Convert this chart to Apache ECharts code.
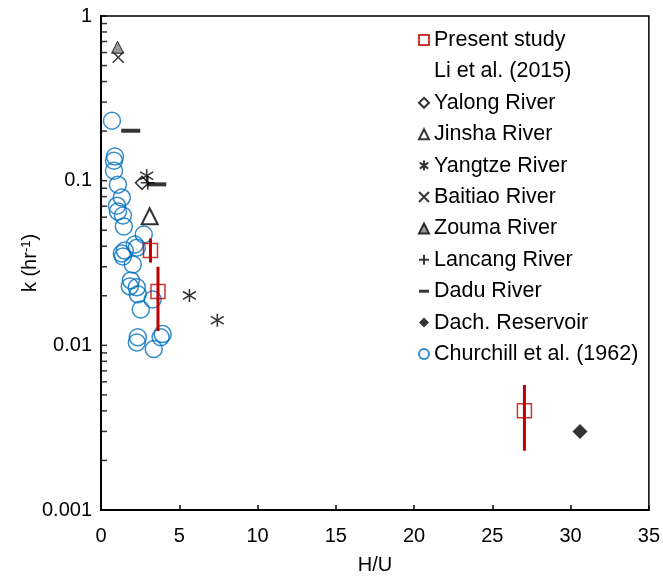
<!DOCTYPE html>
<html><head><meta charset="utf-8">
<script src="https://cdn.jsdelivr.net/npm/echarts@6/dist/echarts.min.js"></script>
<style>html,body{margin:0;padding:0;background:#fff}#c{width:663px;height:580px}</style>
</head><body><div id="c"></div>
<script>
// ---- data ----
const xTicks = [0, 5, 10, 15, 20, 25, 30, 35];
const yTicks = [0.001, 0.01, 0.1, 1];

const presentX = [3.16, 3.64, 27.05];
const presentK = [0.0376, 0.0212, 0.0040];
const presentLow = [0.0318, 0.0122, 0.00229];
const presentHigh = [0.0445, 0.030, 0.00574];

const yalongX = [2.62];            const yalongK = [0.097];
const jinshaX = [3.11];            const jinshaK = [0.0608];
const yangtzeX = [2.92, 5.65, 7.43]; const yangtzeK = [0.107, 0.0201, 0.0142];
const baitiaoX = [1.10];           const baitiaoK = [0.562];
const zoumaX = [1.06];             const zoumaK = [0.646];
const lancangX = [2.99];           const lancangK = [0.097];
const daduX = [1.90, 3.56];        const daduK = [0.201, 0.095];
const dachX = [30.6];              const dachK = [0.0030];

const churchillX = [0.70, 0.89, 0.83, 0.83, 1.08, 1.33, 1.02, 1.08, 1.40, 1.46,
  2.73, 2.16, 2.29, 1.52, 1.33, 1.40, 2.03, 1.91, 1.84, 2.29,
  2.35, 3.30, 2.54, 2.35, 2.29, 3.94, 3.81, 3.37];
const churchillK = [0.231, 0.140, 0.132, 0.115, 0.0946, 0.0789, 0.0705, 0.0649, 0.0614, 0.0527,
  0.0471, 0.0410, 0.0392, 0.0376, 0.0361, 0.0346, 0.0310, 0.0248, 0.0228, 0.0225,
  0.0204, 0.0190, 0.0165, 0.0112, 0.0104, 0.0117, 0.0112, 0.0095];

// ---- helpers ----
const pts = (xs, ks) => xs.map((x, i) => [x, ks[i]]);
const FONT = 'Liberation Sans';
const BLACK = '#000';
const RED = '#C00000';
const BLUE = '#0070C0';

const SYM_X = 'path://M0,0L10,10M10,0L0,10';
const SYM_PLUS = 'path://M5,0L5,10M0,5L10,5';
const SYM_AST = 'path://M5,0L5,10M0.8,2L9.2,8M9.2,2L0.8,8';

// minor/major tick positions on the log y axis (1..9 x decade)
const yMinorTicks = [];
[0.001, 0.01, 0.1].forEach(d => { for (let m = 1; m <= 9; m++) yMinorTicks.push([0, +(m * d).toPrecision(3)]); });
yMinorTicks.push([0, 1]);

const open = (c, w) => ({ color: 'rgba(0,0,0,0)', borderColor: c, borderWidth: w });

const chart = echarts.init(document.getElementById('c'));
chart.setOption({
  animation: false,
  backgroundColor: '#fff',
  textStyle: { fontFamily: FONT },
  grid: { left: 101, right: 11, top: 16, bottom: 69, show: true, borderColor: BLACK, borderWidth: 1.5, backgroundColor: 'transparent' },
  xAxis: {
    type: 'value', min: 0, max: 35, interval: 5,
    name: 'H/U', nameLocation: 'middle', nameGap: 45, nameMoveOverlap: false,
    nameTextStyle: { fontSize: 20, color: BLACK, fontFamily: FONT },
    axisLine: { show: true, lineStyle: { color: BLACK, width: 2 } },
    axisTick: { show: true, inside: true, length: 5, lineStyle: { color: BLACK, width: 1.5 } },
    axisLabel: { fontSize: 20, color: BLACK, margin: 16, fontFamily: FONT, formatter: v => String(v) },
    splitLine: { show: false }
  },
  yAxis: {
    type: 'log', logBase: 10, min: 0.001, max: 1,
    name: '{a|k (hr}{s|-1}{a|)}', nameLocation: 'middle', nameGap: 61, nameRotate: 90, nameMoveOverlap: false,
    nameTextStyle: { color: BLACK, fontFamily: FONT, rich: {
      a: { fontSize: 20, color: BLACK, fontFamily: FONT },
      s: { fontSize: 13, color: BLACK, fontFamily: FONT, verticalAlign: 'top', padding: [0, 0, 6, 0] }
    } },
    axisLine: { show: true, lineStyle: { color: BLACK, width: 2 } },
    axisTick: { show: false },
    axisLabel: { fontSize: 20, color: BLACK, margin: 9, fontFamily: FONT,
      formatter: v => { const t = yTicks.find(t => Math.abs(Math.log10(t) - Math.log10(v)) < 1e-6); return t === undefined ? '' : String(t); } },
    splitLine: { show: false }
  },
  legend: {
    orient: 'vertical', left: 413, top: 24,
    itemWidth: 10, itemHeight: 10, itemGap: 9.4,
    textStyle: { fontSize: 21.5, color: BLACK, fontFamily: FONT, lineHeight: 22 },
    data: [
      'Present study',
      { name: 'Li et al. (2015)', icon: 'rect', itemStyle: { opacity: 0 } },
      'Yalong River', 'Jinsha River', 'Yangtze River', 'Baitiao River', 'Zouma River',
      'Lancang River',
      { name: 'Dadu River', icon: 'path://M0,0h10v3h-10z' },
      'Dach. Reservoir', 'Churchill et al. (1962)'
    ]
  },
  series: [
    { type: 'scatter', name: 'ticks', data: yMinorTicks, symbol: 'rect', symbolSize: [6, 1.5], symbolOffset: [3, 0],
      itemStyle: { color: BLACK }, silent: true, z: 10, clip: false },
    { type: 'scatter', name: 'Churchill et al. (1962)', data: pts(churchillX, churchillK), symbol: 'circle', symbolSize: 17,
      itemStyle: open(BLUE, 1.5), z: 2 },
    { type: 'custom', name: 'err', data: presentX.map((x, i) => [x, presentLow[i], presentHigh[i]]),
      encode: { x: 0, y: [1, 2] }, z: 3, silent: true,
      renderItem: (params, api) => {
        const p1 = api.coord([api.value(0), api.value(1)]);
        const p2 = api.coord([api.value(0), api.value(2)]);
        return { type: 'line', shape: { x1: p1[0], y1: p1[1], x2: p2[0], y2: p2[1] }, style: { stroke: RED, lineWidth: 3 } };
      } },
    { type: 'scatter', name: 'Present study', data: pts(presentX, presentK), symbol: 'rect', symbolSize: 14,
      itemStyle: open(RED, 1.5), z: 4 },
    { type: 'scatter', name: 'Li et al. (2015)', data: [], symbol: 'rect', itemStyle: { opacity: 0 } },
    { type: 'scatter', name: 'Yalong River', data: pts(yalongX, yalongK), symbol: 'diamond', symbolSize: 13,
      itemStyle: open(BLACK, 1.5), z: 4 },
    { type: 'scatter', name: 'Jinsha River', data: pts(jinshaX, jinshaK), symbol: 'triangle', symbolSize: 16,
      itemStyle: open(BLACK, 2), z: 4 },
    { type: 'scatter', name: 'Yangtze River', data: pts(yangtzeX, yangtzeK), symbol: SYM_AST, symbolSize: 13,
      itemStyle: open(BLACK, 1.5), z: 4 },
    { type: 'scatter', name: 'Baitiao River', data: pts(baitiaoX, baitiaoK), symbol: SYM_X, symbolSize: 11,
      itemStyle: open(BLACK, 1.5), z: 4 },
    { type: 'scatter', name: 'Zouma River', data: pts(zoumaX, zoumaK), symbol: 'triangle', symbolSize: 12,
      itemStyle: { color: '#808080', borderColor: BLACK, borderWidth: 1 }, z: 5 },
    { type: 'scatter', name: 'Lancang River', data: pts(lancangX, lancangK), symbol: SYM_PLUS, symbolSize: 14,
      itemStyle: open(BLACK, 1.5), z: 4 },
    { type: 'scatter', name: 'Dadu River', data: pts(daduX, daduK), symbol: 'rect', symbolSize: [19, 4],
      itemStyle: { color: BLACK }, z: 4 },
    { type: 'scatter', name: 'Dach. Reservoir', data: pts(dachX, dachK), symbol: 'diamond', symbolSize: 15,
      itemStyle: { color: BLACK }, z: 4 }
  ]
});
</script></body></html>
